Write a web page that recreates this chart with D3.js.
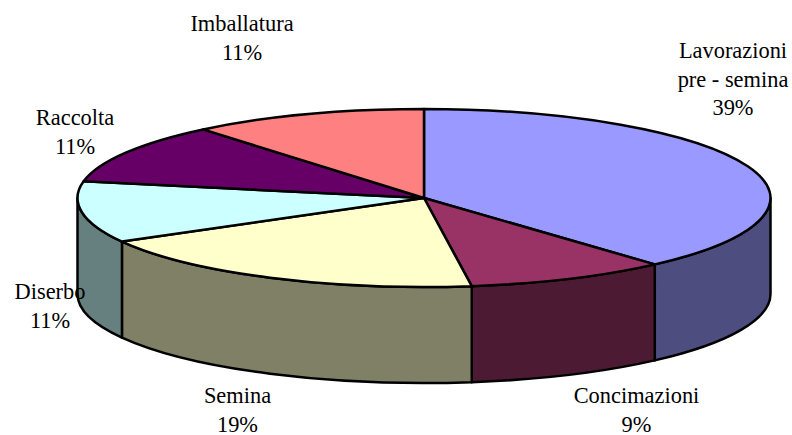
<!DOCTYPE html>
<html><head><meta charset="utf-8">
<script src="https://cdn.jsdelivr.net/npm/d3@7"></script>
<style>html,body{margin:0;background:#fff}svg{display:block}text{font-family:"Liberation Serif",serif;font-size:22.4px;fill:#000}</style>
</head><body><svg width="792" height="435"></svg>
<script>
const categories=["Lavorazioni|pre - semina","Concimazioni","Semina","Diserbo","Raccolta","Imballatura"];
const values=[38.4,9.4,19.05,11.15,11.0,11.0];
const percentLabels=["39%","9%","19%","11%","11%","11%"];
const topColors=["#9999FF","#993366","#FFFFCC","#CCFFFF","#660066","#FF8080"];
const sideColors=["#4D4D80","#4D1A33","#808066","#668080","#330033","#804040"];

const cx=424,cy=198,rx=346.5,ry=89,depth=96;
const svg=d3.select("svg");
const arcs=d3.pie().sort(null).value(d=>d)(values);
const px=a=>cx+rx*Math.sin(a), py=a=>cy-ry*Math.cos(a);

const frontStart=Math.PI/2, frontEnd=3*Math.PI/2;
arcs.forEach((d,i)=>{
  const a0=Math.max(d.startAngle,frontStart), a1=Math.min(d.endAngle,frontEnd);
  if(a1<=a0) return;
  const p=`M${px(a0)},${py(a0)}A${rx},${ry} 0 0 1 ${px(a1)},${py(a1)}`+
    `L${px(a1)},${py(a1)+depth}A${rx},${ry} 0 0 0 ${px(a0)},${py(a0)+depth}Z`;
  svg.append("path").attr("d",p).attr("fill",sideColors[i]).attr("stroke","#000").attr("stroke-width",2.5).attr("stroke-linejoin","round");
});
const arcGen=d3.arc().innerRadius(0).outerRadius(rx);
svg.append("g").attr("transform",`translate(${cx},${cy}) scale(1,${ry/rx})`)
  .selectAll("path").data(arcs).join("path")
  .attr("d",arcGen).attr("fill",(d,i)=>topColors[i])
  .attr("stroke","#000").attr("stroke-width",2.5).attr("vector-effect","non-scaling-stroke").attr("stroke-linejoin","round");

const labelPos=[[733,58],[636.5,403],[237.5,403],[50,299],[75,125],[242,31]];
const lineH=28.7;
categories.forEach((c,i)=>{
  const lines=c.split("|").concat(percentLabels[i]);
  const t=svg.append("text").attr("text-anchor","middle");
  lines.forEach((l,j)=>t.append("tspan").attr("x",labelPos[i][0]).attr("y",labelPos[i][1]+j*lineH).text(l));
});
</script></body></html>
